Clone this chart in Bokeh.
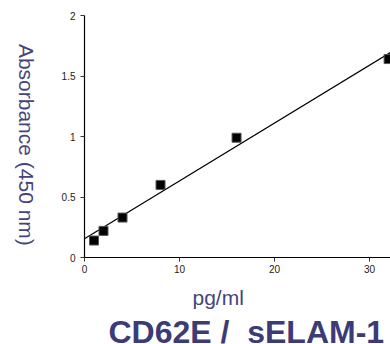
import math
from bokeh.plotting import figure
from bokeh.models import Range1d, FixedTicker, Title
from bokeh.embed import file_html
from bokeh.resources import INLINE

# data
conc = [1, 2, 4, 8, 16, 32]
absorb = [0.14, 0.22, 0.33, 0.60, 0.99, 1.64]
fit_x = [0, 32.2]
fit_y = [0.155, 1.695]
x_ticks = [0, 10, 20, 30]
y_ticks = [0, 0.5, 1, 1.5, 2]

LABEL_COLOR = "#45457c"
TITLE_COLOR = "#3b3b76"

p = figure(width=390, height=344, output_backend="svg", toolbar_location=None,
           x_range=Range1d(0, 32.2), y_range=Range1d(0, 2),
           min_border_left=84, min_border_right=0, min_border_top=15,
           min_border_bottom=86)
p.outline_line_color = None
p.grid.visible = False

for ax in (p.xaxis[0], p.yaxis[0]):
    ax.axis_line_color = "black"
    ax.axis_line_width = 1.2
    ax.major_tick_line_color = "#333333"
    ax.major_tick_out = 4
    ax.major_tick_in = 0
    ax.minor_tick_line_color = None
    ax.major_label_text_font = "Liberation Sans"
    ax.major_label_text_font_size = "10px"
    ax.major_label_text_color = "#222222"
p.xaxis[0].ticker = FixedTicker(ticks=x_ticks)
p.yaxis[0].ticker = FixedTicker(ticks=y_ticks)
p.xaxis[0].major_label_standoff = 3
p.yaxis[0].major_label_standoff = 5

yax = p.yaxis[0]
yax.axis_label = "Absorbance (450 nm)\u00a0\u00a0"
yax.axis_label_orientation = -math.pi / 2
try:
    yax.axis_label_align = "start"
except AttributeError:
    pass
yax.axis_label_standoff = 32
yax.axis_label_text_font = "Liberation Sans"
yax.axis_label_text_font_size = "21px"
yax.axis_label_text_font_style = "normal"
yax.axis_label_text_color = LABEL_COLOR

p.line(fit_x, fit_y, line_color="black", line_width=1.2)
p.scatter(conc, absorb, marker="square", size=9, fill_color="black",
          line_color="#555555", line_width=1)

p.add_layout(Title(text="pg/ml", align="left", offset=108,
                   text_font="Liberation Sans", text_font_size="21px",
                   text_font_style="normal", text_color=LABEL_COLOR,
                   vertical_align="bottom", standoff=16), "below")
p.add_layout(Title(text="CD62E /\u00a0\u00a0sELAM-1", align="left", offset=24,
                   text_font="Liberation Sans", text_font_size="32px",
                   text_font_style="bold", text_color=TITLE_COLOR,
                   vertical_align="bottom", standoff=-10), "below")

open("out.html", "w").write(file_html(p, INLINE))
